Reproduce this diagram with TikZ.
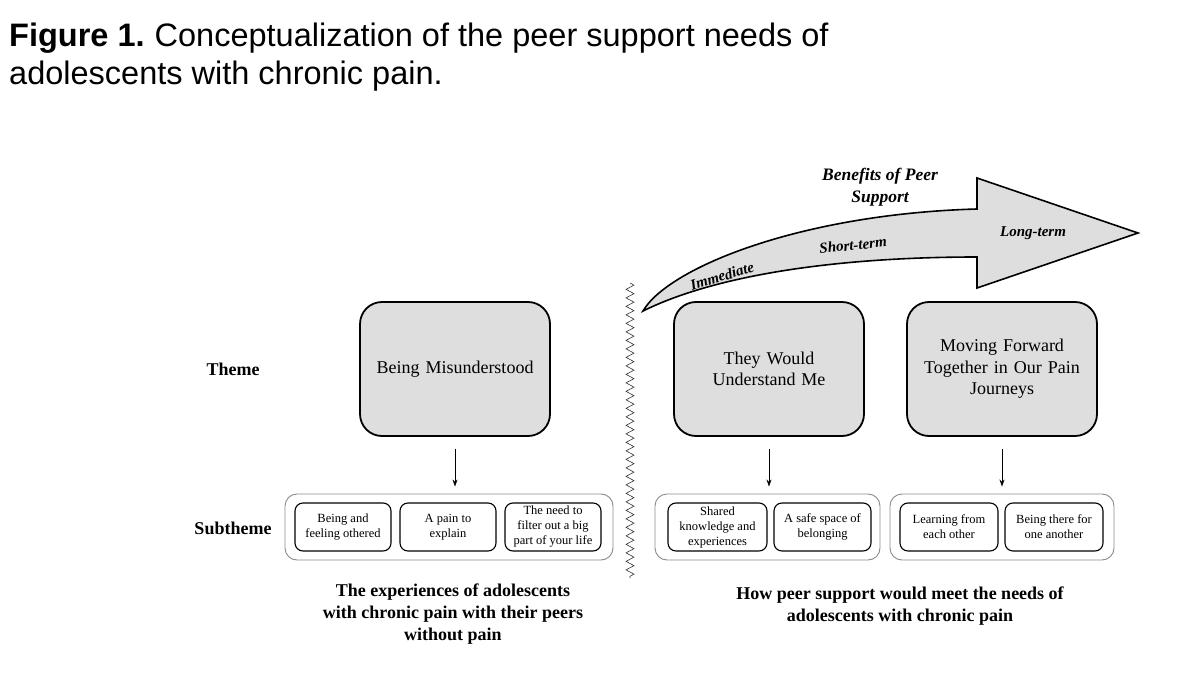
\documentclass[tikz,border=0pt]{standalone}
\usepackage{fontspec}
\setmainfont{Liberation Serif}
\newfontfamily\titlefont{Liberation Sans}
\usetikzlibrary{decorations.pathmorphing,arrows.meta}
\definecolor{boxgray}{HTML}{DEDEDE}
\definecolor{outergray}{HTML}{8A8A8A}
\begin{document}
\begin{tikzpicture}[x=1pt,y=-1pt,
  themebox/.style={draw=black, line width=1.8pt, fill=boxgray, rounded corners=22pt,
    minimum width=190pt, minimum height=134pt, align=center, text width=176pt,
    font=\fontsize{18}{21.5}\selectfont},
  subbox/.style={draw=black, line width=1.1pt, rounded corners=8pt, minimum height=48pt,
    align=center, inner sep=1pt, font=\fontsize{12.5}{15}\selectfont},
  outerbox/.style={draw=outergray, line width=0.9pt, rounded corners=12pt, minimum height=66pt, inner sep=0pt},
  rowlabel/.style={font=\fontsize{18}{21}\selectfont\bfseries},
  bottomlabel/.style={font=\fontsize{18}{21.7}\selectfont\bfseries, align=center},
  arrowlabel/.style={font=\fontsize{15}{21}\selectfont\bfseries\itshape, align=center, inner sep=0pt},
  downarrow/.style={-{Stealth[length=7pt,width=5pt]}, line width=0.8pt, shorten <=12pt, shorten >=7pt},
  titletext/.style={font=\fontsize{32.5}{38}\selectfont\titlefont, anchor=base west, inner sep=0pt}
]
\useasboundingbox (0,0) rectangle (1200,674);

% title
\node[titletext] (t1) at (9,47) {\textbf{Figure 1.}\hspace{-2pt} Conceptualization of the peer support needs of};
\node[titletext] (t2) at (9,85) {adolescents with chronic pain.};

% row labels
\node[rowlabel] (themelbl) at (233,369) {Theme};
\node[rowlabel] (sublbl) at (233,528) {Subtheme};

% big curved arrow
\draw[line width=1.6pt, fill=boxgray, line join=miter]
  (643,311) .. controls (668,268) and (800,214) .. (977,209)
  -- (977,178) -- (1138,233) -- (977,288) -- (977,257)
  .. controls (850,257) and (722,272) .. (643,311) -- cycle;
\node[arrowlabel, font=\fontsize{17.5}{22}\selectfont\bfseries\itshape] (benefits) at (880,187) {Benefits of Peer\\Support};
\node[arrowlabel, rotate=17] (imm) at (722,276) {Immediate};
\node[arrowlabel, rotate=6] (short) at (853,245) {Short-term};
\node[arrowlabel] (long) at (1033,233) {Long-term};

% zigzag separator
\draw[line width=0.6pt, draw=black!80, decorate, decoration={zigzag, segment length=8.5pt, amplitude=4pt}] (630,283) -- (630,578);

% theme boxes
\node[themebox] (th1) at (455,369) {Being Misunderstood};
\node[themebox] (th2) at (769,369) {They Would\\Understand Me};
\node[themebox] (th3) at (1002,369) {Moving Forward\\Together in Our Pain\\Journeys};

% outer subtheme boxes
\node[outerbox, minimum width=328pt] (o1) at (449,527) {};
\node[outerbox, minimum width=225pt] (o2) at (767.5,527) {};
\node[outerbox, minimum width=224pt] (o3) at (1002,527) {};

% arrows
\draw[downarrow] (th1.south) -- (th1.south |- o1.north);
\draw[downarrow] (th2.south) -- (th2.south |- o2.north);
\draw[downarrow] (th3.south) -- (th3.south |- o3.north);

% inner subtheme boxes
\node[subbox, minimum width=96pt] (s1) at (343,527) {Being and\\feeling othered};
\node[subbox, minimum width=96pt] (s2) at (448,527) {A pain to\\explain};
\node[subbox, minimum width=96pt] (s3) at (553,527) {The need to\\filter out a big\\part of your life};
\node[subbox, minimum width=99pt] (s4) at (717.5,527) {Shared\\knowledge and\\experiences};
\node[subbox, minimum width=97pt] (s5) at (822.5,527) {A safe space of\\belonging};
\node[subbox, minimum width=98pt] (s6) at (949,527) {Learning from\\each other};
\node[subbox, minimum width=98pt] (s7) at (1054,527) {Being there for\\one another};

% bottom labels
\node[bottomlabel] (b1) at (453,614) {The experiences of adolescents\\with chronic pain with their peers\\without pain};
\node[bottomlabel] (b2) at (900,606) {How peer support would meet the needs of\\adolescents with chronic pain};
\end{tikzpicture}
\end{document}
